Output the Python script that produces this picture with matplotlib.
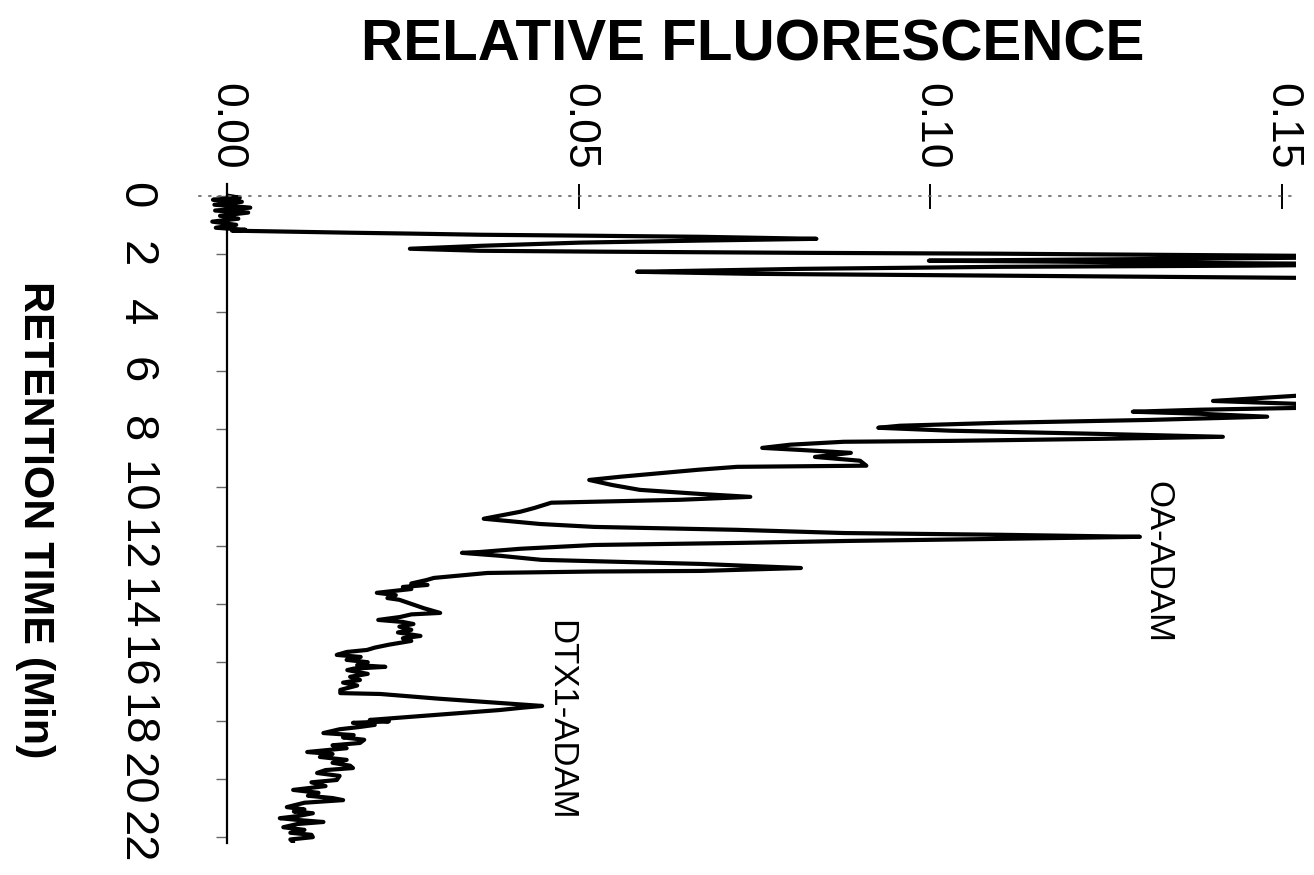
import numpy as np
import matplotlib
matplotlib.use("Agg")
import matplotlib.pyplot as plt
from matplotlib import font_manager

# шрифты: узкий Helvetica-подобный, если есть
available = {f.name for f in font_manager.fontManager.ttflist}
HAS_NARROW = 'Liberation Sans Narrow' in available
NARROW = 'Liberation Sans Narrow' if HAS_NARROW else 'Liberation Sans'
REG = 'Liberation Sans'

# --- данные хроматограммы (время, мин / относительная флуоресценция) ---
# начало: шум базовой линии и фронт растворителя (выше 0.15 - за шкалой)
solvent_time = [0.00, 0.07, 0.14, 0.21, 0.31, 0.41, 0.51, 0.58, 0.69, 0.79,
                0.89, 1.00, 1.10, 1.17, 1.20, 1.24, 1.27, 1.30, 1.34, 1.37,
                1.41, 1.48, 1.54, 1.61, 1.72, 1.82, 1.89, 1.92, 1.96, 1.99,
                2.04, 2.09, 2.16, 2.20, 2.23, 2.26, 2.32, 2.35, 2.40, 2.44,
                2.51, 2.61, 2.68, 2.73, 2.78, 2.85, 4.80, 6.79]
solvent_fluor = [0.0001, 0.0018, -0.0020, 0.0021, -0.0018, 0.0033, -0.0017, 0.0030, -0.0010, 0.0016,
                 -0.0021, 0.0013, -0.0016, 0.0026, 0.0007, 0.0100, 0.0175, 0.0260, 0.0360, 0.0502,
                 0.0673, 0.0838, 0.0673, 0.0502, 0.0360, 0.0260, 0.0360, 0.0530, 0.0815, 0.1099,
                 0.1384, 0.170, 0.1384, 0.1170, 0.0998, 0.1170, 0.1455, 0.170, 0.1455, 0.1099,
                 0.0815, 0.0583, 0.0744, 0.1028, 0.1313, 0.170, 0.190, 0.170]

# средняя часть: пики 7-13 мин, включая OA-ADAM
mid_time = [6.86, 7.04, 7.14, 7.21, 7.28, 7.34, 7.41, 7.48, 7.58, 7.69,
            7.79, 7.89, 7.96, 8.06, 8.17, 8.27, 8.34, 8.41, 8.44, 8.54,
            8.65, 8.72, 8.82, 8.96, 9.09, 9.26, 9.28, 9.30, 9.40, 9.51,
            9.64, 9.75, 9.92, 10.09, 10.23, 10.33, 10.43, 10.47, 10.53, 10.71,
            10.84, 11.08, 11.26, 11.36, 11.46, 11.57, 11.63, 11.70, 11.77, 11.84,
            11.91, 11.98, 12.11, 12.22, 12.25, 12.35, 12.49, 12.56, 12.63, 12.77,
            12.87, 12.89, 12.94]
mid_fluor = [0.1522, 0.1402, 0.1522, 0.170, 0.1522, 0.1384, 0.1288, 0.1384, 0.1479, 0.1313,
             0.1099, 0.0957, 0.0926, 0.1028, 0.1241, 0.1416, 0.1241, 0.1028, 0.0877, 0.0801,
             0.0761, 0.0815, 0.0887, 0.0836, 0.0900, 0.0909, 0.0815, 0.0725, 0.0670, 0.0619,
             0.0559, 0.0515, 0.0547, 0.0587, 0.0673, 0.0744, 0.0644, 0.0573, 0.0461, 0.0437,
             0.0417, 0.0365, 0.0445, 0.0522, 0.0725, 0.0877, 0.1099, 0.1298, 0.1099, 0.0886,
             0.0725, 0.0522, 0.0417, 0.0360, 0.0334, 0.0388, 0.0447, 0.0559, 0.0674, 0.0816,
             0.0674, 0.0522, 0.0370]

# хвост: шумная базовая линия и пик DTX1-ADAM
tail_time = [13.11, 13.18, 13.30, 13.35, 13.42, 13.49, 13.62, 13.70, 13.80, 13.86,
             14.00, 14.15, 14.31, 14.36, 14.45, 14.55, 14.62, 14.69, 14.78, 14.89,
             14.98, 15.10, 15.18, 15.27, 15.40, 15.50, 15.58, 15.65, 15.75, 15.82,
             15.92, 16.00, 16.10, 16.16, 16.22, 16.27, 16.40, 16.50, 16.61, 16.70,
             16.80, 16.95, 17.06, 17.09, 17.25, 17.40, 17.50, 17.56, 17.64, 17.80,
             17.98, 18.03, 18.08, 18.15, 18.22, 18.30, 18.43, 18.50, 18.58, 18.66,
             18.77, 18.85, 18.95, 19.08, 19.15, 19.25, 19.35, 19.45, 19.55, 19.63,
             19.70, 19.80, 19.90, 20.04, 20.12, 20.25, 20.38, 20.48, 20.58, 20.66,
             20.73, 20.82, 20.97, 21.05, 21.12, 21.18, 21.28, 21.35, 21.42, 21.48,
             21.55, 21.66, 21.75, 21.85, 21.92, 22.00, 22.08, 22.17]
tail_fluor = [0.0294, 0.0284, 0.0262, 0.0285, 0.0250, 0.0262, 0.0213, 0.0240, 0.0228, 0.0245,
              0.0262, 0.0280, 0.0303, 0.0262, 0.0246, 0.0215, 0.0250, 0.0265, 0.0245, 0.0262,
              0.0243, 0.0275, 0.0250, 0.0262, 0.0230, 0.0210, 0.0199, 0.0170, 0.0156, 0.0190,
              0.0170, 0.0200, 0.0185, 0.0225, 0.0180, 0.0171, 0.0200, 0.0175, 0.0189, 0.0165,
              0.0185, 0.0161, 0.0161, 0.0218, 0.0300, 0.0388, 0.0448, 0.0420, 0.0388, 0.0300,
              0.0203, 0.0230, 0.0179, 0.0210, 0.0189, 0.0160, 0.0137, 0.0180, 0.0165, 0.0195,
              0.0189, 0.0150, 0.0170, 0.0114, 0.0150, 0.0132, 0.0170, 0.0150, 0.0175, 0.0179,
              0.0140, 0.0128, 0.0160, 0.0156, 0.0120, 0.0140, 0.0094, 0.0130, 0.0115, 0.0150,
              0.0165, 0.0110, 0.0085, 0.0110, 0.0095, 0.0122, 0.0100, 0.0075, 0.0105, 0.0137,
              0.0100, 0.0080, 0.0110, 0.0090, 0.0120, 0.0122, 0.0090, 0.0094]

time_ticks = list(range(0, 23, 2))
fluor_ticks = [0.00, 0.05, 0.10, 0.15]
fluor_labels = ['0.00', '0.05', '0.10', '0.15']

peak_labels = ['OA-ADAM', 'DTX1-ADAM']
peak_label_pos = [(0.1324, 12.56), (0.0475, 17.98)]

t = np.concatenate([solvent_time, mid_time, tail_time])
f = np.concatenate([solvent_fluor, mid_fluor, tail_fluor])

# размеры подписей (узкий шрифт позволяет крупнее)
fs_xt = 40 if HAS_NARROW else 32
fs_yt = 43 if HAS_NARROW else 34
fs_yl = 37 if HAS_NARROW else 31

fig = plt.figure(figsize=(13.14, 8.75), dpi=100)
ax = fig.add_axes([0.1514, 0.0366, 0.8349, 0.7531])

ax.plot(f, t, color='black', linewidth=3.0, solid_joinstyle='round', solid_capstyle='round')

ax.set_xlim(-0.004, 0.152)
ax.set_ylim(22.2, -0.4)

# оси: шкала флуоресценции сверху, время слева (повёрнутая хроматограмма)
ax.spines['right'].set_visible(False)
ax.spines['bottom'].set_visible(False)
ax.spines['left'].set_position(('data', 0))
ax.spines['left'].set_linewidth(1.6)
ax.spines['top'].set_position(('data', 0))
ax.spines['top'].set_linestyle((0, (1, 5)))
ax.spines['top'].set_color('#666666')
ax.spines['top'].set_linewidth(1.2)

ax.xaxis.tick_top()
ax.set_xticks(fluor_ticks)
ax.set_xticklabels(fluor_labels, rotation=-90, family=NARROW, fontsize=fs_xt)
ax.tick_params(axis='x', direction='inout', length=18, width=1.4, pad=10)

ax.set_yticks(time_ticks)
ax.set_yticklabels([str(v) for v in time_ticks], rotation=-90, family=NARROW,
                   fontsize=fs_yt, va='center')
ax.tick_params(axis='y', direction='out', length=8, width=1, color='#666666', pad=42)

ax.set_xlabel('RELATIVE FLUORESCENCE', family=REG, fontweight='bold', fontsize=42)
ax.xaxis.set_label_position('top')
ax.xaxis.label.set_va('center')
ax.xaxis.set_label_coords(0.505, 1.21)

ax.set_ylabel('RETENTION TIME (Min)', family=NARROW, fontweight='bold', fontsize=fs_yl)
ax.yaxis.label.set(rotation=-90, va='center', ha='center', rotation_mode='default')
ax.yaxis.set_label_coords(-0.1495, 0.49)

for name, (px, py) in zip(peak_labels, peak_label_pos):
    ax.text(px, py, name, rotation=-90, family=REG, fontsize=25,
            ha='center', va='center')

fig.savefig('out.png', dpi=100)
